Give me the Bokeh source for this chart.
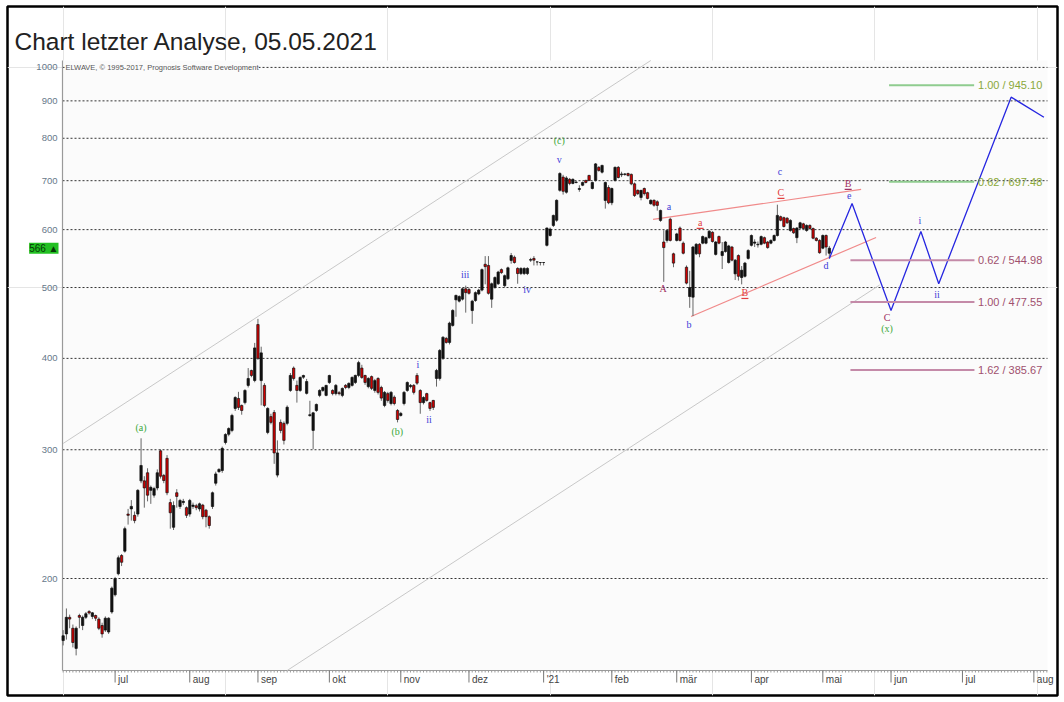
import math
import pandas as pd
from bokeh.plotting import figure
from bokeh.models import Range1d, Label, ColumnDataSource
from bokeh.embed import file_html
from bokeh.resources import INLINE
from bokeh.core.properties import value

# ---------------- data ----------------
opens = [164.5, 168, 177, 171, 160.5, 178, 172.5, 177, 180.3, 177.5, 178, 176, 172.5, 170, 169, 180,
         190, 203, 215, 218, 245, 249, 244, 245, 272, 272, 279, 264, 260, 266, 299, 276.7, 292, 254, 235,
         262, 250.9, 254, 250, 245, 251, 251.5, 249, 252, 248, 243, 250.9, 270, 280, 281, 306.9, 315, 318.8,
         341.7, 352.6, 344.9, 348, 367.4, 385.1, 373.1, 445, 373, 367.4, 316.8, 333, 337.4, 277, 327, 326,
         326, 361.6, 388, 367.4, 361.6, 377, 358.3, 334, 318.8, 339.5, 356, 361.6, 356, 370.8, 361.6, 358,
         359, 356, 367.4, 365, 367.4, 370.8, 379.1, 388, 379, 366, 377.7, 361.6, 375.5, 365, 344.9, 358, 347,
         354, 339.5, 334.2, 347, 361.6, 366, 367.4, 379.1, 361.6, 348, 358, 348, 350.4, 375.5, 375.5, 400,
         426, 420.6, 443.7, 481, 479, 482, 498, 497, 465, 480, 490, 496, 538, 536, 482, 500, 506, 529, 503,
         514, 544.5, 550, 531, 522.5, 522.5, 522.5, 545, 548, 542, 541, 541, 571, 589, 608, 618, 679, 708,
         675, 703, 694, 696, 681, 690, 700.6, 711.7, 683, 700.6, 730, 719, 657.8, 685, 653, 700.6, 730, 713,
         714, 716, 714, 693, 679, 664, 683, 674, 651, 658, 655, 617.7, 577, 580, 620, 556, 580, 603, 575,
         533, 486, 485, 556, 573, 575, 575, 585, 595, 555, 587, 553, 560, 541, 568, 522, 553, 516, 518, 548,
         571, 575, 572, 573, 585, 577, 575, 580, 589, 625, 623, 622, 598.5, 602, 585, 603, 611, 598.5, 608,
         602, 584, 580, 566, 589, 557]
highs = [170, 182, 178.5, 173, 172, 179, 178, 180, 181, 180, 178.5, 177, 174, 177.5, 177, 195,
         201, 215, 216, 235.5, 249, 256, 247, 265, 311, 276, 283, 268, 267, 282, 300.5, 278, 295, 257, 255,
         265, 257, 257, 251, 257, 254, 253, 254, 253, 249, 244, 263, 280, 283, 303, 316, 322, 336,
         355, 360, 346, 363, 388, 386, 420, 453, 415, 370, 343, 336, 340, 309, 330, 328,
         345, 382, 390, 373, 378, 380, 375, 350, 338, 347, 363, 366, 368, 380, 363, 369,
         361, 365, 369, 371, 378, 380, 397, 392, 380, 377, 379, 375, 377, 367, 361, 360, 361,
         356, 341, 338, 361, 372, 369, 369, 382, 363, 355, 359, 349, 351, 387, 412, 429,
         428, 449, 467, 489, 488, 500, 503, 500, 481, 494, 498, 531, 552, 552, 508, 518, 527, 531, 521,
         534, 557.5, 553, 533, 533, 533, 533, 549, 552, 542.5, 541.5, 541.5, 604, 604, 629, 660, 719, 713,
         710, 706, 705, 699, 690, 698, 702, 713, 698, 740, 733, 736, 698, 690, 685, 732, 733, 720,
         717, 718, 716, 696, 681, 680, 685, 676, 660, 660, 658, 639, 599, 600, 623, 558, 594, 606, 578,
         536, 527, 570, 575, 575, 589, 587, 599, 597, 579, 589, 577, 579, 572, 570, 547, 555, 535, 542, 564,
         591, 582, 578, 589, 587, 579, 582, 591, 649, 627, 625, 624, 620, 604, 605, 615, 613, 610, 610,
         604, 586, 582, 591, 591, 570]
lows = [162, 165, 171, 161, 157, 171, 170, 176, 178.5, 176, 175, 170, 166, 169, 168, 179,
        189, 202, 208, 217, 237, 240, 238, 243, 270, 250, 255, 253, 258, 264, 274, 270, 260, 234, 233,
        250, 249, 252, 242, 243, 249, 248, 247, 241, 235, 234, 249, 268, 279, 279, 305, 313, 317,
        339, 340, 335, 346, 365, 377, 371, 398, 345, 343, 315, 325, 287, 275, 316, 305,
        324, 360, 373, 348, 360, 375, 357, 333, 300.5, 338, 354, 360, 355, 369, 356, 356,
        356, 354, 363, 363, 366, 369, 377, 375, 368, 364, 362, 359, 357, 350, 343, 348, 345,
        345, 327, 333, 345, 360, 364, 357, 368, 336, 346, 349, 339, 340, 366, 373, 398,
        419, 418, 442, 456, 477, 480, 462, 489, 446, 478, 488, 494, 505, 489, 469, 498, 504, 522, 500,
        512, 539, 539, 506, 520, 520, 520, 542, 536, 536, 536, 536, 569, 587, 605, 615, 676, 670,
        672, 690, 692, 694, 676, 688, 694, 699, 681, 698, 720, 716, 641, 650, 648, 698, 705, 708,
        711, 709, 690, 665, 669, 658, 668, 660, 649, 645, 637, 615, 509, 576, 578, 533, 578, 578, 555,
        505, 469, 457, 554, 550, 573, 573, 583, 576, 553, 573, 530, 558, 539, 543, 512, 511, 505, 516, 546,
        569, 568, 567, 571, 573, 565, 573, 578, 587, 616, 604, 611, 596, 592, 575, 601, 600, 596, 600,
        582, 578, 556, 564, 553, 548]
closes = [167, 177, 176, 163.5, 171, 177, 177, 179, 179.4, 179.5, 176.5, 171, 168, 176.5, 176.5, 194,
          200, 213.5, 210.5, 234, 244, 251, 240, 264, 285.5, 266, 260, 266.5, 265.5, 279, 276, 272.3, 262, 246, 251.7,
          259, 255.7, 255, 244, 255.7, 252, 250, 253, 243, 243, 236.3, 262, 278, 282, 301.3, 314.8, 320.7, 334.2,
          353.7, 342.8, 339.5, 361.6, 375.5, 379.1, 413.4, 400, 407, 344.9, 341.7, 327, 297, 297, 318.8, 309,
          343, 379.1, 375.5, 361.6, 376.7, 379, 371.9, 335, 337, 346, 361.6, 365, 367.4, 379, 358, 367.4,
          358, 363.9, 365, 369.7, 376.7, 379.1, 394.7, 376.7, 370.8, 375.5, 364, 373, 359.4, 353, 359.4, 350.4, 359.4,
          347, 330, 336.4, 359.4, 370.8, 367.4, 359.4, 370, 348, 353.7, 350.4, 341.7, 342.8, 385.1, 410.1, 427.5,
          420.6, 447, 465.2, 487.7, 486, 498, 492, 491, 479, 492, 496, 529, 534, 491, 506, 516, 525, 524, 519,
          532, 553, 541, 522.5, 531, 531, 531, 546, 545, 542, 541, 541, 603, 601, 627.5, 658, 716, 677,
          706, 694, 703, 697, 683, 696, 696, 700.6, 696, 738, 723, 734.5, 696, 653, 683, 730, 707, 715,
          715, 711.7, 693, 668, 672, 679, 672, 662, 658, 648, 647.6, 637.4, 567, 598.5, 580, 540, 592, 580, 557,
          507, 500, 568, 573, 556, 587, 585, 597, 578, 577, 575, 560, 577, 570, 545, 545, 518, 528, 540, 562,
          589, 577, 573, 587, 575, 567, 580, 589, 627.5, 618, 606, 613, 617.7, 594, 603, 613, 602, 608, 602,
          584, 580, 558, 589, 568, 566]

first_day = "2020-06-09"
y_ticks = [200, 300, 400, 500, 600, 700, 800, 900, 1000]
month_labels = ["jul", "aug", "sep", "okt", "nov", "dez", "'21", "feb", "mär", "apr", "mai", "jun", "jul", "aug"]
last_price = 566

channel_upper_x = [0, 181]
channel_upper_y = [306, 1022]
channel_lower_x = [69, 251.5]
channel_lower_y = [149.7, 504]
tri_upper_x = [181.7, 245.8]
tri_upper_y = [619.6, 680.9]
tri_lower_x = [193.4, 250.4]
tri_lower_y = [456.4, 585.4]
proj_x = [236, 243, 255, 264.2, 269.7, 292, 302.1]
proj_y = [548, 651.6, 465.2, 596.6, 506, 910.6, 854.9]

fib_green_ratios = ["1.00", "0.62"]
fib_green_levels = [945.10, 697.48]
fib_green_span = [254.4, 280.6]
fib_mauve_ratios = ["0.62", "1.00", "1.62"]
fib_mauve_levels = [544.98, 477.55, 385.67]
fib_mauve_span = [242.5, 280.7]
fib_label_x = 281.8

BLUE, GREEN, RED, MAROON = "#4040d8", "#3aa83a", "#e24040", "#a03062"
wave_text = ["(a)", "(b)", "i", "ii", "iii", "iv", "(c)", "v", "a", "A", "b", "a", "B", "c", "C", "d",
             "B", "e", "C", "(x)", "i", "ii"]
wave_x = [24.0, 102.9, 109.3, 112.7, 123.8, 142.9, 152.8, 152.8, 186.6, 184.8, 192.8, 196.2, 210.0,
          220.8, 221.1, 235.0, 241.8, 242.1, 253.8, 253.8, 263.9, 269.2]
wave_y = [321.8, 317.8, 392.4, 330.0, 521.0, 496.9, 794, 748, 645.5, 498.6, 445.1, 613.7, 492.3,
          720.6, 674.5, 536.0, 693.9, 668.2, 455, 439.6, 617.7, 489.2]
wave_color = [GREEN, GREEN, BLUE, BLUE, BLUE, BLUE, GREEN, BLUE, BLUE, MAROON, BLUE, RED, RED,
              BLUE, RED, BLUE, MAROON, BLUE, MAROON, GREEN, BLUE, BLUE]
wave_underlined = [False] * 11 + [True, True, False, True, False, True, False, False, False, False, False]

# ---------------- geometry ----------------
W, H = 1064, 702
IN_L, IN_R, IN_T, IN_B = 62, 1047, 60, 670      # inner price panel (canvas px)
FR_L, FR_R, FR_T, FR_B = 7, 1057, 6, 695        # black outer frame (canvas px)
x_lo, x_hi = -0.2, 303.2
y_lo, y_hi = 149.7, 1022.0
ppx = (IN_R - IN_L) / (x_hi - x_lo)
ppy = (IN_B - IN_T) / math.log(y_hi / y_lo)

def px_x(px):
    return x_lo + (px - IN_L) / ppx

def px_y(py):
    return y_lo * math.exp((IN_B - py) / ppy)

n = len(closes)
days = pd.bdate_range(first_day, periods=306)
month_pos = [i for i in range(1, len(days)) if days[i].month != days[i - 1].month][:len(month_labels)]

p = figure(width=W, height=H, x_range=Range1d(px_x(FR_L), px_x(FR_R)), y_range=Range1d(px_y(FR_B), px_y(FR_T)),
           y_axis_type="log", x_axis_location=None, y_axis_location=None,
           output_backend="svg", toolbar_location=None,
           min_border_left=FR_L, min_border_right=W - FR_R, min_border_top=FR_T, min_border_bottom=H - FR_B,
           background_fill_color="white", border_fill_color="white",
           outline_line_color="black", outline_line_width=2.5)

# inner panel background
p.quad(left=[x_lo], right=[x_hi], bottom=[y_lo], top=[y_hi], fill_color="#fbfbfb", line_color=None)

# title
p.text([px_x(14)], [px_y(41)], text=["Chart letzter Analyse, 05.05.2021"], text_font=value("Liberation Sans"),
       text_font_size="24.5px", text_color="#222222", text_align="left", text_baseline="alphabetic")

# horizontal grid (dotted)
p.segment(x0=[x_lo] * len(y_ticks), y0=y_ticks, x1=[x_hi] * len(y_ticks), y1=y_ticks,
          line_color="#333333", line_dash="2 2", line_width=1)

# axes lines
p.line([x_lo, x_lo], [y_lo, y_hi], line_color="#9a9a9a", line_width=1.2)
p.line([x_lo, x_hi], [y_lo, y_lo], line_color="#9a9a9a", line_width=1)

# y tick labels
p.text([x_lo] * len(y_ticks), y_ticks, text=[str(t) for t in y_ticks], x_offset=-5,
       text_font=value("Liberation Sans"), text_font_size="9.5px", text_color="#66788a",
       text_align="right", text_baseline="middle")

# x ticks and labels
p.ray(x=list(range(0, 304)), y=[y_lo] * 304, length=2, length_units="screen", angle=-math.pi / 2,
      line_color="#9a9a9a", line_width=1)
p.ray(x=month_pos, y=[y_lo] * len(month_pos), length=12, length_units="screen", angle=-math.pi / 2,
      line_color="#777777", line_width=1)
p.text(month_pos, [y_lo] * len(month_pos), text=month_labels, x_offset=3, y_offset=3,
       text_font=value("Liberation Sans"), text_font_size="10px", text_color="#444444",
       text_align="left", text_baseline="top")

# channel and triangle lines
p.line(channel_upper_x, channel_upper_y, line_color="#c8c8c8", line_width=1)
p.line(channel_lower_x, channel_lower_y, line_color="#c8c8c8", line_width=1)
p.line(tri_upper_x, tri_upper_y, line_color="#f08a8a", line_width=1.2)
p.line(tri_lower_x, tri_lower_y, line_color="#f08a8a", line_width=1.2)

# candles
src = ColumnDataSource(dict(
    x=list(range(n)), h=highs, l=lows,
    top=[max(o, c) for o, c in zip(opens, closes)],
    bottom=[min(o, c) for o, c in zip(opens, closes)],
    fill=["#111111" if c >= o else "#d00000" for o, c in zip(opens, closes)]))
p.segment("x", "h", "x", "l", source=src, line_color="#666666", line_width=1)
p.vbar(x="x", width=0.72, top="top", bottom="bottom", fill_color="fill", line_color="#111111",
       line_width=0.7, source=src)

# projection path
p.line(proj_x, proj_y, line_color="#2626e0", line_width=1.3)

# fibonacci levels
for r, lv in zip(fib_green_ratios, fib_green_levels):
    p.line(fib_green_span, [lv, lv], line_color="#8fcc8f", line_width=2)
    p.text([fib_label_x], [lv], text=[f"{r} / {lv:.2f}"], text_color="#8aa83a",
           text_font=value("Liberation Sans"), text_font_size="11px", text_baseline="middle", text_align="left")
for r, lv in zip(fib_mauve_ratios, fib_mauve_levels):
    p.line(fib_mauve_span, [lv, lv], line_color="#c48aa8", line_width=2)
    p.text([fib_label_x], [lv], text=[f"{r} / {lv:.2f}"], text_color="#a0506e",
           text_font=value("Liberation Sans"), text_font_size="11px", text_baseline="middle", text_align="left")

# wave labels
wsrc = ColumnDataSource(dict(x=wave_x, y=wave_y, t=wave_text, c=wave_color))
p.text("x", "y", text="t", text_color="c", source=wsrc, text_font=value("Liberation Serif"),
       text_font_size="10px", text_align="center", text_baseline="middle")
ul = [i for i, u in enumerate(wave_underlined) if u]
p.scatter([wave_x[i] for i in ul], [wave_y[i] * math.exp(-6 / ppy) for i in ul], marker="dash", size=7,
          line_color=[wave_color[i] for i in ul], line_width=1.2)

# header
p.add_layout(Label(x=x_lo, y=1000, x_offset=3, text="ELWAVE, \u00a9 1995-2017, Prognosis Software Development",
                   text_font="Liberation Sans", text_font_size="7.5px", text_color="#555555",
                   text_baseline="middle", background_fill_color="#fbfbfb"))

# last price badge
p.add_layout(Label(x=x_lo, y=last_price, x_offset=-4, text=f"{last_price} \u25b2",
                   text_align="right", text_baseline="middle", text_font="Liberation Sans",
                   text_font_size="10px", text_color="#063806", background_fill_color="#22c022"))

with open("out.html", "w", encoding="utf-8") as f:
    f.write(file_html(p, INLINE))
